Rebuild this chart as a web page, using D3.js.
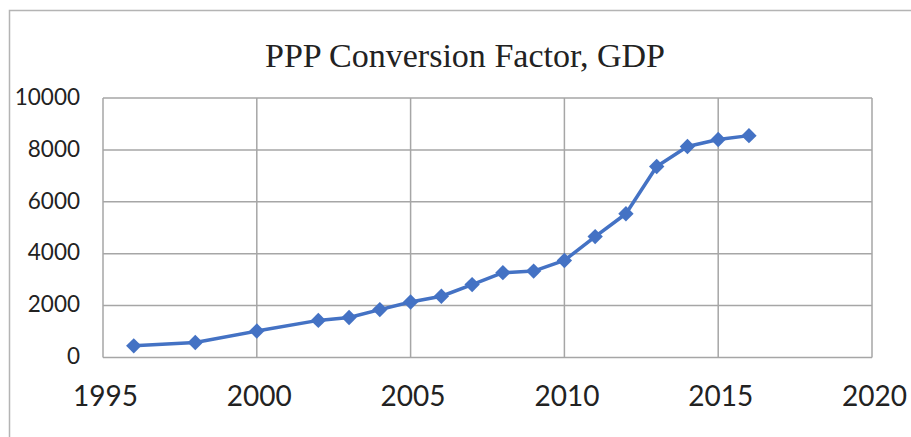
<!DOCTYPE html>
<html>
<head>
<meta charset="utf-8">
<script src="https://cdn.jsdelivr.net/npm/d3@7"></script>
<style>
    body { margin: 0; background: #fff; }
    svg { display: block; }
</style>
</head>
<body>
<div id="chart"></div>
<script>

// Data.
const years  = [1996, 1998, 2000, 2002, 2003, 2004, 2005, 2006, 2007, 2008, 2009, 2010, 2011, 2012, 2013, 2014, 2015, 2016];
const values = [450, 580, 1020, 1430, 1540, 1845, 2140, 2360, 2810, 3270, 3330, 3740, 4660, 5540, 7360, 8130, 8400, 8550];
const xTicks = [1995, 2000, 2005, 2010, 2015, 2020];
const yTicks = [0, 2000, 4000, 6000, 8000, 10000];
const title  = "PPP Conversion Factor, GDP";

const width = 911, height = 437;
const plot = {left: 103, right: 872, top: 98, bottom: 357.5};

let svg = d3.select("#chart")
    .append("svg")
        .attr("width", width)
        .attr("height", height);

// Outer chart frame (cut off at right and bottom)
svg.append("path")
    .attr("d", "M9.5," + (height + 2) + " V10.5 H" + (width + 2))
    .attr("fill", "none")
    .attr("stroke", "#b4b4b4")
    .attr("stroke-width", 1.5);

// Title
svg.append("text")
    .attr("x", 465)
    .attr("y", 66.5)
    .attr("text-anchor", "middle")
    .attr("textLength", 400)
    .attr("lengthAdjust", "spacingAndGlyphs")
    .style("font-family", "'Liberation Serif', 'Times New Roman', serif")
    .style("font-size", "34px")
    .style("fill", "#222")
    .text(title);

// Set the ranges
let x = d3.scaleLinear().domain([1995, 2020]).range([plot.left, plot.right]);
let y = d3.scaleLinear().domain([0, 10000]).range([plot.bottom, plot.top]);

// Gridlines
let grid = svg.append("g").attr("class", "grid");
grid.selectAll("line.h")
    .data(yTicks)
    .join("line")
        .attr("class", "h")
        .attr("x1", plot.left).attr("x2", plot.right)
        .attr("y1", d => y(d)).attr("y2", d => y(d))
        .attr("stroke", "#a6a6a6")
        .attr("stroke-width", 1.5);
grid.selectAll("line.v")
    .data(xTicks)
    .join("line")
        .attr("class", "v")
        .attr("x1", d => x(d)).attr("x2", d => x(d))
        .attr("y1", plot.top).attr("y2", plot.bottom)
        .attr("stroke", "#a6a6a6")
        .attr("stroke-width", 1.5);

// Y axis labels
let yAxis = d3.axisLeft(y).tickValues(yTicks).tickFormat(d3.format("d")).tickSize(0).tickPadding(0);
svg.append("g")
    .attr("class", "y axis")
    .attr("transform", "translate(80,-1)")
    .call(yAxis)
    .call(g => g.select(".domain").remove())
    .call(g => g.selectAll("text")
        .style("font-family", "Lato, 'Open Sans', sans-serif")
        .style("font-size", "22.5px")
        .style("fill", "#222"));

// X axis labels
let xAxis = d3.axisBottom(x).tickValues(xTicks).tickFormat(d3.format("d")).tickSize(0).tickPadding(0);
svg.append("g")
    .attr("class", "x axis")
    .attr("transform", "translate(2,386)")
    .call(xAxis)
    .call(g => g.select(".domain").remove())
    .call(g => g.selectAll("text")
        .style("font-family", "Lato, 'Open Sans', sans-serif")
        .style("font-size", "28px")
        .style("fill", "#222"));

// The line
let points = years.map((yr, i) => ({year: yr, value: values[i]}));
let valueline = d3.line()
    .x(d => x(d.year))
    .y(d => y(d.value));

svg.append("path")
    .attr("class", "line")
    .attr("d", valueline(points))
    .attr("fill", "none")
    .attr("stroke", "#4472c4")
    .attr("stroke-width", 3.5)
    .attr("stroke-linejoin", "round");

// Diamond markers
svg.append("g")
    .selectAll("path")
    .data(points)
    .join("path")
        .attr("d", d3.symbol(d3.symbolSquare, 118)())
        .attr("transform", d => "translate(" + x(d.year) + "," + y(d.value) + ") rotate(45)")
        .attr("fill", "#4472c4");

</script>
</body>
</html>
